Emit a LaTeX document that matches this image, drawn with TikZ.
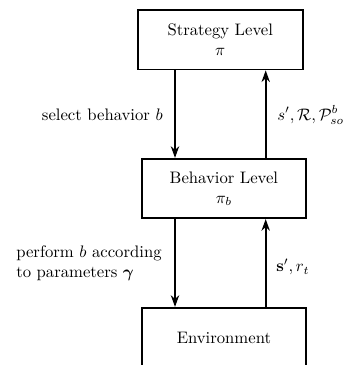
\documentclass[tikz,border=0pt]{standalone}
\usepackage{amsmath,amssymb,bm}
\usetikzlibrary{arrows.meta,calc}
\begin{document}
\begin{tikzpicture}[x=0.6pt,y=-0.6pt,
  box/.style={draw,line width=1.1pt,minimum width=99pt,minimum height=35.6pt,align=center,inner sep=2pt},
  flow/.style={line width=1.1pt,-{Stealth[length=7pt,width=5pt]}},
  lbl/.style={inner sep=0pt,align=left}]
\useasboundingbox (0,0) rectangle (358,365);
\clip (0,0) rectangle (358,365);
\node[box] (strat) at (220.2,39.8) {Strategy Level\\ $\pi$};
\node[box,minimum width=98.6pt] (beh) at (223.9,188.5) {Behavior Level\\ $\pi_b$};
\node[box,minimum width=98.6pt] (env) at (223.9,337.5) {Environment};
\coordinate (xl) at (175,0);
\coordinate (xr) at (265.7,0);
\draw[flow] (strat.south -| xl) -- (beh.north -| xl);
\draw[flow] (beh.north -| xr) -- (strat.south -| xr);
\draw[flow] (beh.south -| xl) -- (env.north -| xl);
\draw[flow] (env.north -| xr) -- (beh.south -| xr);
\node[lbl,anchor=east] (l1) at (163,115) {select behavior $b$};
\node[lbl,anchor=west] (l2) at (277,115) {$s', \mathcal{R}, \mathcal{P}^{b}_{so}$};
\node[lbl,anchor=west] (l3) at (16,263) {perform $b$ according\\to parameters $\bm{\gamma}$};
\node[lbl,anchor=west] (l4) at (276,267) {$\mathbf{s}', r_t$};
\end{tikzpicture}
\end{document}
